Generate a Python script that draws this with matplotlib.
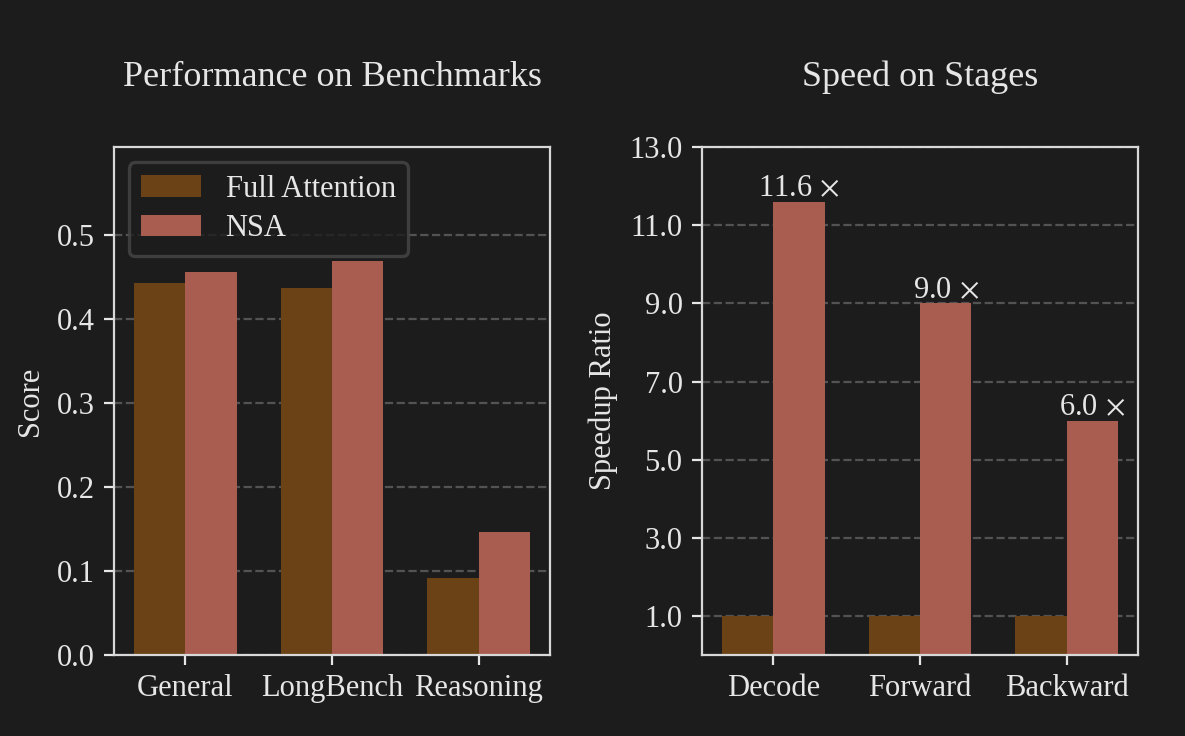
import matplotlib
matplotlib.use("Agg")
import matplotlib.pyplot as plt
import numpy as np

# --- Data ---
bench_labels = ["General", "LongBench", "Reasoning"]
bench_full = [0.443, 0.437, 0.092]
bench_nsa = [0.456, 0.469, 0.146]

stage_labels = ["Decode", "Forward", "Backward"]
stage_full = [1.0, 1.0, 1.0]
stage_nsa = [11.6, 9.0, 6.0]

# --- Style ---
BG = "#1c1c1c"
FG = "#e6e6e6"
C_FULL = "#6a4216"
C_NSA = "#a95c50"
GRID = "#5a5a5a"

plt.rcParams["font.family"] = ["Liberation Serif", "DejaVu Serif"]
plt.rcParams["mathtext.fontset"] = "stix"
plt.rcParams["text.color"] = FG
plt.rcParams["axes.labelcolor"] = FG
plt.rcParams["xtick.color"] = FG
plt.rcParams["ytick.color"] = FG

fig = plt.figure(figsize=(5.925, 3.68), dpi=200, facecolor=BG)
ax1 = fig.add_axes([0.0962, 0.110, 0.368, 0.690])
ax2 = fig.add_axes([0.5924, 0.110, 0.368, 0.690])

width = 0.35


def style_axes(ax):
    ax.set_facecolor(BG)
    for s in ax.spines.values():
        s.set_color("#d8d8d8")
        s.set_linewidth(0.8)
    ax.tick_params(labelsize=11, width=0.8, length=3.5)
    ax.grid(axis="y", linestyle="--", color=GRID, linewidth=0.8, alpha=0.9)
    ax.set_axisbelow(True)


# --- Left: benchmarks ---
x = np.arange(len(bench_labels))
style_axes(ax1)
ax1.bar(x - width / 2, bench_full, width, color=C_FULL, label="Full Attention")
ax1.bar(x + width / 2, bench_nsa, width, color=C_NSA, label="NSA")
ax1.set_xticks(x)
ax1.set_xticklabels(bench_labels)
ax1.set_ylim(0, 0.605)
ax1.set_yticks([0.0, 0.1, 0.2, 0.3, 0.4, 0.5])
ax1.set_yticklabels(["0.0", "0.1", "0.2", "0.3", "0.4", "0.5"])
ax1.set_ylabel("Score", fontsize=11)
ax1.set_title("Performance on Benchmarks", fontsize=13, pad=22, color=FG)
leg = ax1.legend(loc="upper left", fontsize=11, facecolor=BG, edgecolor="#474747",
                 framealpha=0.8, borderpad=0.4, labelspacing=0.35,
                 handlelength=1.95)
leg.get_frame().set_linewidth(1.2)

# --- Right: speed ---
x2 = np.arange(len(stage_labels))
style_axes(ax2)
ax2.bar(x2 - width / 2, stage_full, width, color=C_FULL)
bars = ax2.bar(x2 + width / 2, stage_nsa, width, color=C_NSA)
for b, v in zip(bars, stage_nsa):
    ax2.annotate(f"{v:.1f}$\\,\\times$", (b.get_x() + b.get_width() / 2, v),
                 xytext=(0, -0.5), textcoords="offset points",
                 ha="center", va="bottom", fontsize=11, color=FG)
ax2.set_xticks(x2)
ax2.set_xticklabels(stage_labels)
ax2.set_ylim(0, 13)
ax2.set_yticks([1, 3, 5, 7, 9, 11, 13])
ax2.set_yticklabels([f"{t:.1f}" for t in [1, 3, 5, 7, 9, 11, 13]])
ax2.set_ylabel("Speedup Ratio", fontsize=11)
ax2.set_title("Speed on Stages", fontsize=13, pad=22, color=FG)

fig.savefig("out.png", dpi=200, facecolor=BG)
